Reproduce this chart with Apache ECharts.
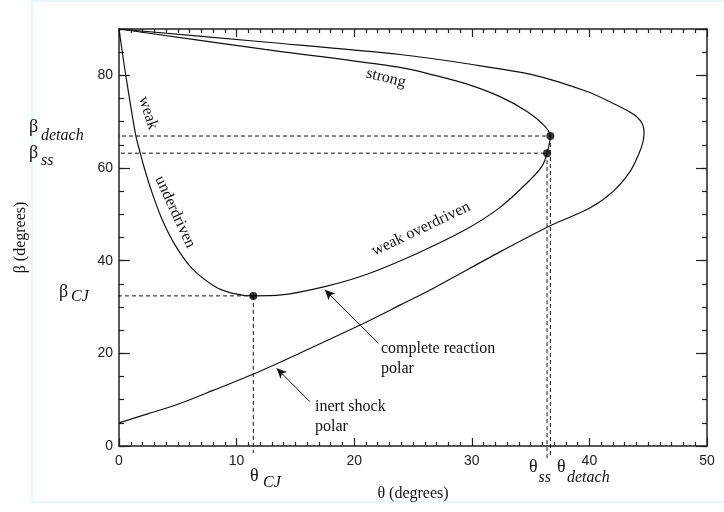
<!DOCTYPE html>
<html><head><meta charset="utf-8">
<script src="https://cdn.jsdelivr.net/npm/echarts@6/dist/echarts.min.js"></script>
<style>html,body{margin:0;padding:0;background:#fff}#c{width:724px;height:512px}</style>
</head><body><div id="c"></div>
<script>
// ---- data ----
const xTicks = [0, 10, 20, 30, 40, 50];
const yTicks = [0, 20, 40, 60, 80];
const yMax = 90;

// inert shock polar (theta, beta) traced from (0,5) round the nose back to (0,90)
const inertTheta = [0, 2.5, 5, 8, 11.4, 15, 20.5, 23.9, 26.7, 32.4, 36.8, 40.0, 42.0, 43.45, 44.2, 44.55, 44.65, 44.5, 44.0, 43.2, 42.3, 39.8, 35.2, 29.6, 23.9, 12.4, 0];
const inertBeta  = [5.0, 7.0, 9.0, 12.0, 15.5, 19.6, 26.1, 30.4, 34.0, 41.9, 47.7, 51.3, 54.9, 59.2, 63.0, 65.6, 67.7, 69.5, 71.1, 72.4, 73.6, 76.5, 80.1, 82.5, 84.5, 87.2, 90];

// complete reaction polar: weak underdriven -> CJ -> weak overdriven -> detach -> strong
const reactTheta = [0, 0.57, 1.42, 1.79, 2.07, 2.78, 3.63, 4.76, 6.18, 8.16, 9.58, 11.42, 13.8, 17.5, 20.9, 25.2, 29.4, 32.4, 34.95, 36.0, 36.4, 36.68, 36.1, 34.7, 32.4, 29.6, 26.7, 23.9, 12.4, 0];
const reactBeta  = [90, 80.1, 67.1, 63.4, 60.7, 54.9, 49.1, 43.4, 38.4, 34.4, 33.0, 32.4, 32.6, 34.4, 36.9, 41.4, 46.6, 51.5, 57.4, 60.5, 63.2, 66.9, 69.3, 72.2, 75.4, 78.1, 80.1, 81.7, 85.6, 90];

const cjPoint = [11.42, 32.4];
const ssPoint = [36.4, 63.2];
const detachPoint = [36.68, 66.9];

// where the dashed guides stop outside the frame (data units)
const guideLeftEnd = [-2.72, -4.6, -2.47];   // detach, ss, CJ
const guideBottomEnd = [-2.6, -2.6, -1.5];   // detach, ss, CJ

// annotation arrows [tail, tip] in data units
const arrowReaction = [[22.05, 22.2], [17.5, 33.7]];
const arrowInert = [[16.24, 9.56], [13.41, 16.77]];

// ---- chart ----
const pair = (xs, ys) => xs.map((t, i) => [t, ys[i]]);
const ink = '#111';
const axisColor = '#222';
const serif = 'Liberation Serif';

function xAxisDef(pos, withLabels) {
  return {
    type: 'value', position: pos, min: xTicks[0], max: xTicks[xTicks.length - 1], interval: xTicks[1] - xTicks[0],
    axisLine: { show: true, onZero: false, lineStyle: { color: axisColor, width: 1.5 } },
    axisTick: { show: true, inside: true, length: 8, lineStyle: { color: axisColor, width: 1.2 } },
    minorTick: { show: true, splitNumber: 10, length: 4, lineStyle: { color: axisColor, width: 1.2 } },
    splitLine: { show: false }, minorSplitLine: { show: false },
    axisLabel: { show: withLabels, margin: 8, fontFamily: 'Liberation Sans', fontSize: 14, color: '#222' },
    name: withLabels ? 'θ (degrees)' : '', nameLocation: 'middle', nameGap: 40,
    nameTextStyle: { fontFamily: serif, fontSize: 16, color: '#111' }
  };
}
function yAxisDef(pos, step, len, withLabels, showLine) {
  return {
    type: 'value', position: pos, min: yTicks[0], max: yMax, interval: step,
    axisLine: { show: showLine, onZero: false, lineStyle: { color: axisColor, width: 1.5 } },
    axisTick: { show: true, inside: true, length: len, lineStyle: { color: axisColor, width: 1.2 } },
    splitLine: { show: false },
    axisLabel: {
      show: withLabels, margin: 6, fontFamily: 'Liberation Sans', fontSize: 14, color: '#222',
      formatter: v => (yTicks.indexOf(v) >= 0 ? String(v) : '')
    },
    name: withLabels ? 'β (degrees)' : '', nameLocation: 'middle', nameGap: 90,
    nameTextStyle: { fontFamily: serif, fontSize: 16, color: '#111' }
  };
}

const guides = [
  [[guideLeftEnd[0], detachPoint[1]], detachPoint],
  [[guideLeftEnd[1], ssPoint[1]], ssPoint],
  [[guideLeftEnd[2], cjPoint[1]], cjPoint],
  [detachPoint, [detachPoint[0], guideBottomEnd[0]]],
  [ssPoint, [ssPoint[0], guideBottomEnd[1]]],
  [cjPoint, [cjPoint[0], guideBottomEnd[2]]]
];

const series = [];
guides.forEach(g => series.push({
  type: 'line', data: g, showSymbol: false, clip: false, silent: true,
  lineStyle: { color: ink, width: 1, type: [4, 3] }, z: 1
}));
series.push({
  type: 'line', data: pair(inertTheta, inertBeta), showSymbol: false, smooth: 0.3,
  lineStyle: { color: ink, width: 1.2 }, z: 2
});
series.push({
  type: 'line', data: pair(reactTheta, reactBeta), showSymbol: false, smooth: 0.3,
  lineStyle: { color: ink, width: 1.2 }, z: 2,
  markLine: {
    silent: true, symbol: ['none', 'arrow'], symbolSize: [7, 10], animation: false,
    label: { show: false },
    lineStyle: { color: ink, width: 1, type: 'solid' },
    data: [
      [{ coord: arrowReaction[0] }, { coord: arrowReaction[1] }],
      [{ coord: arrowInert[0] }, { coord: arrowInert[1] }]
    ]
  }
});
series.push({
  type: 'scatter', data: [cjPoint, ssPoint, detachPoint], symbolSize: 8,
  itemStyle: { color: '#000' }, z: 5
});

// text annotations (pixel layout)
const deg = Math.PI / 180;
function t(text, x, y, opts) {
  opts = opts || {};
  return {
    type: 'text', x: x, y: y, rotation: (opts.rot || 0) * deg, z: 10,
    style: {
      text: text, fill: '#111',
      font: (opts.italic ? 'italic ' : '') + (opts.size || 16) + 'px "' + serif + '"',
      align: opts.align || 'left', verticalAlign: 'middle'
    }
  };
}
const graphics = [
  { type: 'rect', shape: { x: 32, y: 1, width: 700, height: 501 }, style: { fill: 'none', stroke: '#e2fafa', lineWidth: 2 }, z: -1, silent: true },
  t('weak', 148, 113, { align: 'center', rot: -71.6 }),
  t('underdriven', 175, 212, { align: 'center', rot: -65.4 }),
  t('strong', 386, 78, { align: 'center', rot: -14 }),
  t('weak overdriven', 421, 229, { align: 'center', rot: 25.5 }),
  t('complete reaction', 381, 349),
  t('polar', 381, 369),
  t('inert shock', 315, 407),
  t('polar', 315, 427),
  // beta labels on the left
  t('β', 29, 127.5, { size: 18 }),
  t('detach', 41, 135.5, { italic: true }),
  t('β', 29, 153.5, { size: 18 }),
  t('ss', 41, 161, { italic: true }),
  t('β', 59, 292.5, { size: 18 }),
  t('CJ', 71, 297, { italic: true }),
  // theta labels below
  t('θ', 250, 476, { size: 18 }),
  t('CJ', 263, 483, { italic: true }),
  t('θ', 529, 467.5, { size: 18 }),
  t('ss', 538.5, 478, { italic: true }),
  t('θ', 557, 467.5, { size: 18 }),
  t('detach', 567, 478, { italic: true })
];

const chart = echarts.init(document.getElementById('c'), null, { renderer: 'canvas' });
chart.setOption({
  animation: false,
  backgroundColor: '#fff',
  grid: { left: 119, right: 17, top: 29, bottom: 66, containLabel: false, outerBoundsMode: 'none' },
  xAxis: [xAxisDef('bottom', true), xAxisDef('top', false)],
  yAxis: [
    yAxisDef('left', 20, 11, true, true),
    yAxisDef('left', 5, 5, false, false),
    yAxisDef('right', 20, 11, false, true),
    yAxisDef('right', 5, 5, false, false)
  ],
  series: series,
  graphic: graphics
});
</script>
</body></html>
